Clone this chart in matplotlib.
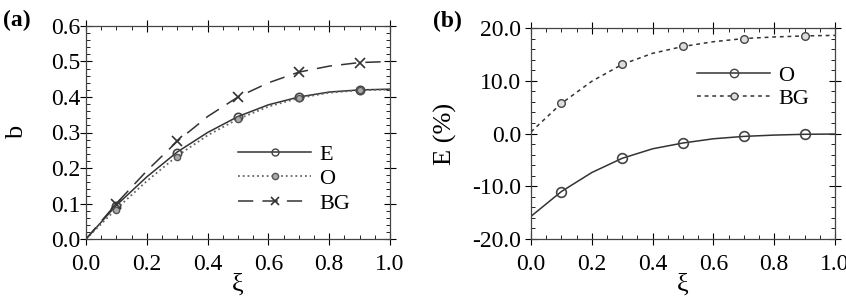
import matplotlib
matplotlib.use('Agg')
import matplotlib.pyplot as plt
from matplotlib.ticker import MultipleLocator, AutoMinorLocator, FormatStrFormatter

plt.rcParams['font.family'] = ['Liberation Serif', 'DejaVu Serif']
plt.rcParams['font.size'] = 17

# panel (a): curves read at xi = 0, 0.1, ..., 1.0
xi_line = [0.0, 0.1, 0.2, 0.3, 0.4, 0.5, 0.6, 0.7, 0.8, 0.9, 1.0]
xi_mark = [0.1, 0.3, 0.5, 0.7, 0.9]

b_E_line = [0.0, 0.095, 0.175, 0.245, 0.300, 0.345, 0.378, 0.400, 0.414, 0.420, 0.422]
b_O_line = [0.0, 0.085, 0.163, 0.234, 0.292, 0.338, 0.373, 0.397, 0.412, 0.419, 0.421]
b_BG_line = [0.0, 0.100, 0.192, 0.275, 0.345, 0.400, 0.440, 0.470, 0.487, 0.497, 0.500]
b_E_mark = [0.093, 0.243, 0.345, 0.400, 0.420]
b_O_mark = [0.083, 0.232, 0.337, 0.396, 0.419]
b_BG_mark = [0.100, 0.275, 0.400, 0.470, 0.497]

# panel (b): relative error in %
err_O_line = [-15.7, -11.0, -7.4, -4.7, -2.9, -1.8, -1.0, -0.55, -0.3, -0.15, -0.1]
err_BG_line = [0.3, 5.7, 9.9, 13.1, 15.2, 16.5, 17.4, 18.0, 18.3, 18.5, 18.6]
err_O_mark = [-11.0, -4.7, -1.8, -0.55, -0.15]
err_BG_mark = [5.7, 13.1, 16.5, 18.0, 18.5]

col = '#333333'
W, H = 846, 307
fig = plt.figure(figsize=(8.46, 3.07), dpi=100)
ax1 = fig.add_axes([86 / W, 1 - 239 / H, 304 / W, 213 / H])
ax2 = fig.add_axes([531 / W, 1 - 239 / H, 304 / W, 211 / H])


def style(ax, ypad):
    ax.tick_params(which='major', direction='inout', length=8, width=0.8,
                   top=True, right=True, labelsize=17)
    ax.tick_params(axis='x', which='major', pad=7)
    ax.tick_params(axis='y', which='major', pad=ypad)
    ax.tick_params(which='minor', direction='in', length=3, width=0.6,
                   top=True, right=True)
    ax.xaxis.set_major_locator(MultipleLocator(0.2))
    ax.xaxis.set_minor_locator(MultipleLocator(0.05))
    ax.yaxis.set_minor_locator(AutoMinorLocator(5))
    ax.xaxis.set_major_formatter(FormatStrFormatter('%.1f'))
    ax.yaxis.set_major_formatter(FormatStrFormatter('%.1f'))
    for s in ax.spines.values():
        s.set_linewidth(0.9)
        s.set_color('#444444')
    ax.set_xlim(0, 1.0)
    ax.set_xlabel('ξ', fontsize=19)


# (a)
ax1.plot(xi_line, b_E_line, '-', color=col, lw=1.1)
ax1.plot(xi_line, b_O_line, ':', color='#666666', lw=1.3)
ax1.plot(xi_line, b_BG_line, color=col, lw=1.1, dashes=(10, 6))
ax1.plot(xi_mark, b_E_mark, 'o', ms=6, mfc='none', mec='#444444', mew=1.2)
ax1.plot(xi_mark, b_O_mark, 'o', ms=4.5, mfc='#aaaaaa', mec='#555555', mew=1.0)
ax1.plot(xi_mark, b_BG_mark, 'x', ms=7, color=col, mew=1.2)
ax1.set_ylim(0, 0.6)
ax1.yaxis.set_major_locator(MultipleLocator(0.1))
style(ax1, 0)
ax1.set_ylabel('b', fontsize=19)
ax1.yaxis.set_label_coords(-0.19, 0.5)
ax1.xaxis.set_label_coords(0.5, -0.16)

hE, = ax1.plot([], [], '-', color=col, lw=1.1, marker='o', ms=5, mfc='none', mec='#444444')
hO, = ax1.plot([], [], ':', color='#666666', lw=1.3, marker='o', ms=4.5, mfc='#aaaaaa', mec='#555555')
hB, = ax1.plot([], [], color=col, lw=1.1, dashes=(10, 6), marker='x', ms=6, mew=1.2)
ax1.legend([hE, hO, hB], ['E', 'O', 'BG'], loc='upper left',
           bbox_to_anchor=(238 / W, 1 - 144 / H), bbox_transform=fig.transFigure,
           frameon=False, handlelength=3.3, handletextpad=0.35,
           labelspacing=0.18, borderpad=0, borderaxespad=0, fontsize=16)
fig.text(3 / W, 1 - 20 / H, '(a)', fontsize=17, fontweight='bold', va='center')

# (b)
ax2.plot(xi_line, err_O_line, '-', color=col, lw=1.1)
ax2.plot(xi_line, err_BG_line, color=col, lw=1.1, dashes=(2.5, 2.5))
ax2.plot(xi_mark, err_O_mark, 'o', ms=7, mfc='none', mec='#444444', mew=1.2)
ax2.plot(xi_mark, err_BG_mark, 'o', ms=5.5, mfc='#dddddd', mec='#444444', mew=1.0)
ax2.set_ylim(-20, 20)
ax2.yaxis.set_major_locator(MultipleLocator(10))
style(ax2, 3)
ax2.set_ylabel('E (%)', fontsize=19)
ax2.yaxis.set_label_coords(-0.243, 0.5)
ax2.xaxis.set_label_coords(0.5, -0.165)

gO, = ax2.plot([], [], '-', color=col, lw=1.1, marker='o', ms=6, mfc='none', mec='#444444')
gB, = ax2.plot([], [], color=col, lw=1.1, dashes=(2.5, 2.5), marker='o', ms=5, mfc='#dddddd', mec='#444444')
ax2.legend([gO, gB], ['O', 'BG'], loc='upper left',
           bbox_to_anchor=(697 / W, 1 - 65 / H), bbox_transform=fig.transFigure,
           frameon=False, handlelength=3.3, handletextpad=0.35,
           labelspacing=0.12, borderpad=0, borderaxespad=0, fontsize=16)
fig.text(433 / W, 1 - 21 / H, '(b)', fontsize=17, fontweight='bold', va='center')

fig.savefig('out.png', dpi=100)
